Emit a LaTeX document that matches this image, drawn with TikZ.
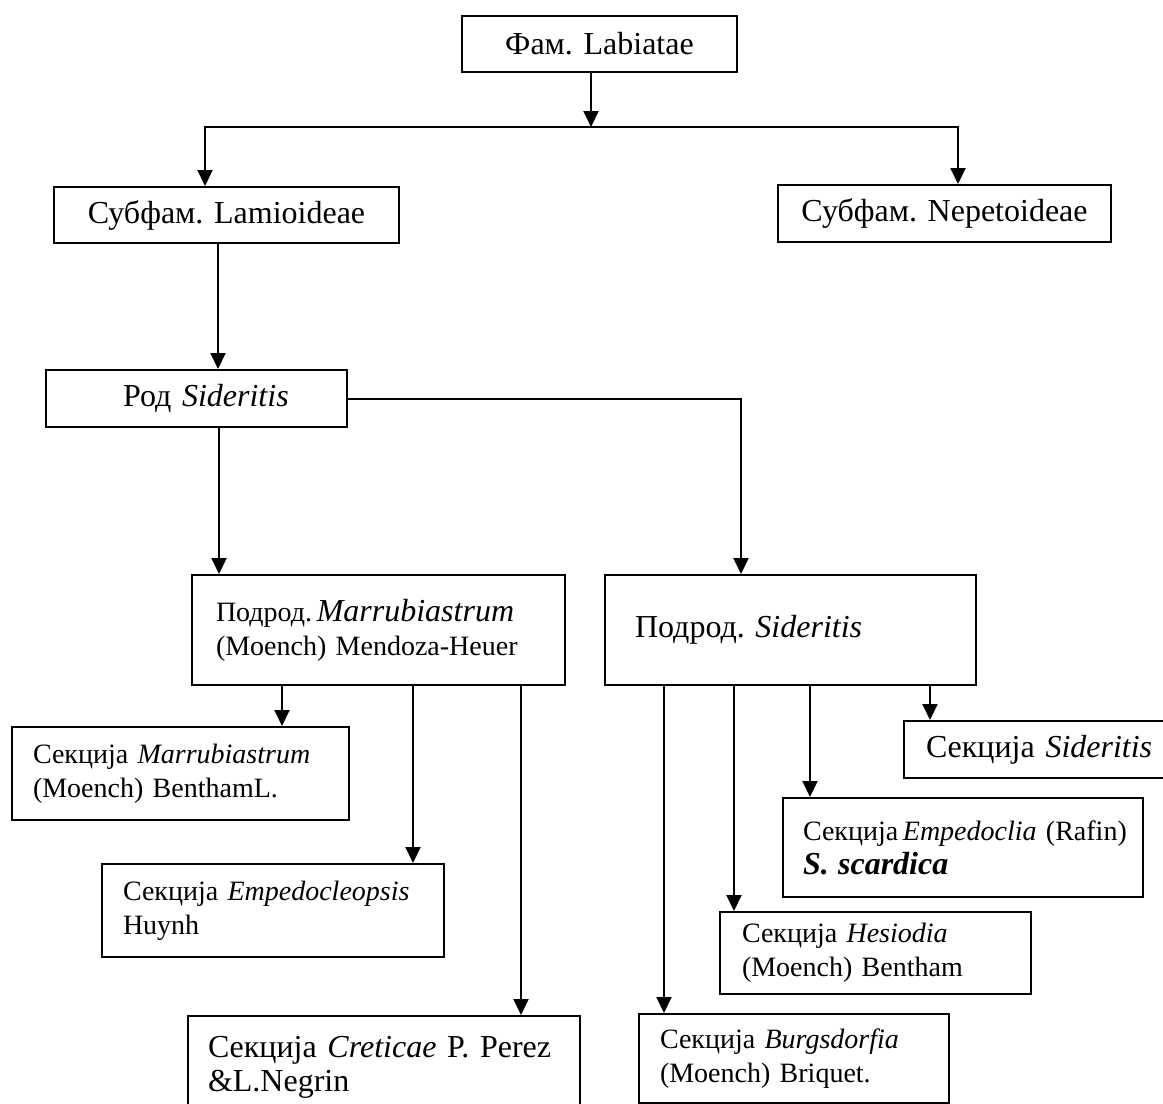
\documentclass[tikz,border=0pt]{standalone}
\usepackage{fontspec}
\setmainfont{Liberation Serif}
\usetikzlibrary{arrows.meta}
\frenchspacing
\begin{document}
\begin{tikzpicture}[x=0.5pt, y=-0.5pt, line width=1pt,
	box/.style={draw, line width=1pt, anchor=north west, inner ysep=0pt, align=left},
	big/.style={font=\fontsize{16}{17}\selectfont},
	small/.style={font=\fontsize{14}{17}\selectfont},
	arr/.style={-{Triangle[length=8pt, width=7.5pt]}}]
	\useasboundingbox (0,0) rectangle (1163,1104);
	\clip (0,0) rectangle (1163,1104);
	% family and subfamilies
	\node[box, big, align=center, text width=127.5pt, inner xsep=5pt, minimum height=28pt] (fam) at (461,15) {Фам. Labiatae};
	\node[box, big, align=center, text width=162.5pt, inner xsep=5pt, minimum height=28pt] (lam) at (53,186) {Субфам. Lamioideae};
	\node[box, big, align=center, text width=156.5pt, inner xsep=5pt, minimum height=28.5pt] (nep) at (777,184) {Субфам. Nepetoideae};
	% genus and subgenera
	\node[box, big, text width=73.5pt, inner xsep=38.5pt, minimum height=28.5pt] (rod) at (45,369) {\mbox{Род~\textit{Sideritis}}};
	\node[box, small, text width=162.5pt, inner xsep=12pt, minimum height=55pt] (pmar) at (191,574) {\mbox{Подрод.\,{\fontsize{16}{17}\selectfont\itshape Marrubiastrum}}\\(Moench) Mendoza-Heuer};
	\node[box, big, text width=155.5pt, inner xsep=15pt, minimum height=55pt] (psid) at (604,574) {Подрод. \textit{Sideritis}};
	% sections
	\node[box, small, text width=147.5pt, inner xsep=10.5pt, minimum height=46.5pt] (smar) at (11,726) {Секција \textit{Marrubiastrum}\\(Moench) BenthamL.};
	\node[box, small, text width=150pt, inner xsep=10.5pt, minimum height=46.5pt] (semp) at (101,863) {Секција \textit{Empedocleopsis}\\Huynh};
	\node[box, big, text width=176pt, inner xsep=10pt, minimum height=51pt] (cret) at (187,1015) {Секција \textit{Creticae} P. Perez\\\&L.Negrin};
	\node[box, big, text width=116.5pt, inner xsep=11pt, minimum height=28.5pt] (ssid) at (903,720) {Секција \textit{Sideritis}};
	\node[box, small, text width=160pt, inner xsep=10pt, minimum height=49.5pt] (empl) at (782,797) {\mbox{Секција\,\textit{Empedoclia} (Rafin)}\\{\fontsize{16}{17}\selectfont\bfseries\itshape S. scardica}};
	\node[box, small, text width=133.5pt, inner xsep=11pt, minimum height=41pt] (hes) at (719,911) {Секција \textit{Hesiodia}\\(Moench) Bentham};
	\node[box, small, text width=134pt, inner xsep=10.5pt, minimum height=44.5pt] (burg) at (638,1013) {Секција \textit{Burgsdorfia}\\(Moench) Briquet.};
	% connectors
	\coordinate (split) at (591,127);
	\draw[arr] (fam.south -| split) -- (split);
	\draw[arr] (split) -| (lam.north -| 205,0);
	\draw[arr] (split) -| (nep.north -| 958,0);
	\draw[arr] (lam.south -| 218,0) -- (rod.north -| 218,0);
	\draw[arr] (rod.south -| 219,0) -- (pmar.north -| 219,0);
	\draw[arr] (rod.east) -| (psid.north -| 741,0);
	\foreach \xx/\dst in {282/smar, 413/semp, 521/cret}
		\draw[arr] (pmar.south -| \xx,0) -- (\dst.north -| \xx,0);
	\foreach \xx/\dst in {664/burg, 734/hes, 810/empl, 930/ssid}
		\draw[arr] (psid.south -| \xx,0) -- (\dst.north -| \xx,0);
\end{tikzpicture}
\end{document}
